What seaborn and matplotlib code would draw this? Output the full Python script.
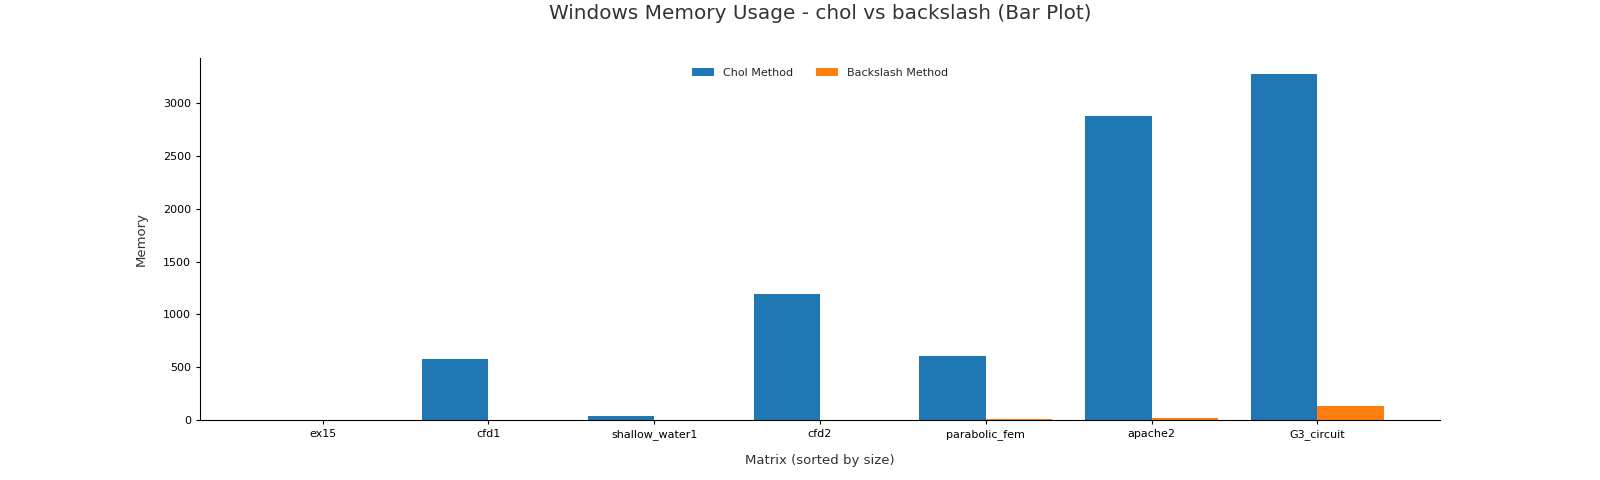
import numpy as np
import pandas as pd
import matplotlib
matplotlib.use("Agg")
import matplotlib.pyplot as plt
import seaborn as sns

# matrices sorted by size
matrices = ['ex15', 'cfd1', 'shallow_water1', 'cfd2', 'parabolic_fem', 'apache2', 'G3_circuit']
chol_mem = [0.5, 578, 40, 1192, 605, 2878, 3272]
backslash_mem = [0.3, 1.0, 0.8, 1.5, 12, 22, 132]
methods = ['Chol Method', 'Backslash Method']

df = pd.DataFrame({
    'Matrix': matrices * 2,
    'Memory': chol_mem + backslash_mem,
    'Method': [methods[0]] * len(matrices) + [methods[1]] * len(matrices),
})

sns.set_style('white')
fig, ax = plt.subplots(figsize=(16, 4.8), dpi=100)
fig.subplots_adjust(left=0.125, right=0.9, top=0.88, bottom=0.125)

sns.barplot(data=df, x='Matrix', y='Memory', hue='Method', order=matrices,
            hue_order=methods, palette=['#1f77b4', '#ff7f0e'], saturation=1,
            width=0.8, linewidth=0, ax=ax)

ax.set_xlim(-0.74, 6.74)
ax.set_ylim(0, 3430)
ax.tick_params(axis='both', labelsize=8, length=3, left=True, bottom=True, colors='black')
ax.set_title('Windows Memory Usage - chol vs backslash (Bar Plot)', fontsize=14.4, color='#333333', pad=28)
ax.set_xlabel('Matrix (sorted by size)', fontsize=9.5, color='#333333', labelpad=10)
ax.set_ylabel('Memory', fontsize=9.5, color='#333333', labelpad=11)
for s in ['left', 'bottom']:
    ax.spines[s].set_color('black')
    ax.spines[s].set_linewidth(0.8)
sns.despine(ax=ax)
ax.legend(loc='upper center', ncol=2, frameon=False, fontsize=8, columnspacing=2)

plt.savefig('out.png', dpi=100)
